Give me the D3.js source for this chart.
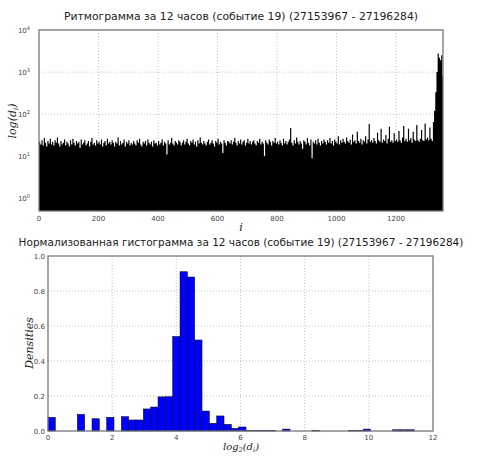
<!doctype html>
<html lang="ru">
<head>
<meta charset="utf-8">
<title>ритмограмма</title>
<script src="https://d3js.org/d3.v7.min.js"></script>
<style>
body{margin:0;background:#fff;}
text{font-family:"DejaVu Sans",sans-serif;}
.grid line{stroke:#999;stroke-width:0.6;stroke-dasharray:1,2;}
.frame{fill:none;stroke:#777;stroke-width:1.3;}
</style>
</head>
<body>
<div id="svg"></div>
<script>
// rhythmogram: one value per 4 beats
var rrStep = 4;
var rrCount = 1358;
var rr = [
22,19,24,18,27,21,17,23,20,26,19,22,18,24,21,28,20,17,23,19,
21,25,18,22,20,17,24,19,26,21,18,23,20,22,16,25,19,21,24,18,
20,23,17,22,27,19,21,18,24,20,22,19,25,17,21,23,18,26,20,22,
19,24,21,17,22,20,28,18,23,19,21,25,17,22,20,24,18,21,19,23,
20,18,24,21,26,19,17,22,20,23,18,25,21,19,22,17,24,20,21,18,
23,19,21,25,18,22,20,11,24,19,21,27,20,18,23,21,19,24,22,18,
21,24,19,22,26,20,18,23,21,25,19,22,17,24,20,28,21,19,23,20,
18,22,25,19,21,24,20,17,23,21,26,19,22,20,12,24,21,18,23,22,
20,24,19,22,27,21,18,23,20,25,19,22,24,18,21,26,20,23,19,22,
24,20,18,23,21,26,19,22,20,10,24,21,19,25,22,18,23,21,27,20,
22,19,24,21,18,26,20,23,19,22,25,47,21,18,24,20,28,22,19,23,
20,15,24,22,19,27,21,18,25,9,22,20,24,19,26,21,18,23,20,25,
22,19,24,21,27,20,23,18,25,22,20,30,19,24,21,26,22,20,28,23,
21,25,19,33,22,24,20,38,23,21,26,19,24,22,30,20,25,58,22,24,
21,27,23,20,36,24,22,45,21,25,23,32,20,26,50,22,24,21,35,23,
25,22,40,24,21,28,52,23,26,22,45,24,27,21,38,25,23,55,24,22,
26,42,24,23,60,25,28,24,48,26,23,65,120,330,1000,2760,2200,1900,2500,800
];
var rrXTicks = [0,200,400,600,800,1000,1200];
var rrYTicks = [0,1,2,3,4];   // powers of ten

// normalized histogram of log2(d_i), 50 bins over [0, 11.43]
var histMax = 11.43;
var hist = [
0.078,0,0,0,0.095,0,0.070,0,0.078,0,
0.082,0.063,0.063,0.126,0.137,0.195,0.196,0.540,0.910,0.880,
0.520,0.114,0.044,0.086,0.038,0.015,0.023,0.004,0.004,0.004,
0.004,0,0.011,0,0,0,0.004,0,0,0,
0,0.004,0.004,0.011,0,0,0,0.007,0.007,0.007
];
var histXTicks = [0,2,4,6,8,10,12];
var histYTicks = [0,0.2,0.4,0.6,0.8,1.0];

var title1 = "Ритмограмма за 12 часов (событие 19) (27153967 - 27196284)";
var title2 = "Нормализованная гистограмма за 12 часов (событие 19) (27153967 - 27196284)";

var chart = d3.select("#svg").append("svg")
  .attr("width", 481).attr("height", 456)
  .style("background", "#fff");

// ---------- top: rhythmogram ----------
var t = {left:39, right:443, top:30, bottom:211};
var x1 = d3.scaleLinear().domain([0, rrCount]).range([t.left, t.right]);
var y1 = d3.scaleLog().domain([0.5, 10000]).range([t.bottom, t.top]);

chart.append("clipPath").attr("id","clip1").append("rect")
  .attr("x",t.left).attr("y",t.top).attr("width",t.right-t.left).attr("height",t.bottom-t.top);

var g1 = chart.append("g").attr("class","grid");
g1.selectAll(".gx").data(rrXTicks.slice(1)).enter().append("line")
  .attr("x1",d=>x1(d)).attr("x2",d=>x1(d)).attr("y1",t.top).attr("y2",t.bottom);
g1.selectAll(".gy").data(rrYTicks).enter().append("line")
  .attr("x1",t.left).attr("x2",t.right).attr("y1",d=>y1(Math.pow(10,d))).attr("y2",d=>y1(Math.pow(10,d)));

// bars drawn as one stepped area so neighbouring bars don't leave seams
var pts = rr.map(function(d,i){ return [i*rrStep, d]; });
pts.push([rrCount, rr[rr.length-1]]);
var barArea = d3.area().curve(d3.curveStepAfter)
  .x(d=>x1(d[0])).y0(t.bottom).y1(d=>y1(d[1]));
chart.append("path").attr("clip-path","url(#clip1)")
  .attr("d", barArea(pts)).attr("fill","#000").attr("stroke","none");

chart.append("rect").attr("class","frame")
  .attr("x",t.left).attr("y",t.top).attr("width",t.right-t.left).attr("height",t.bottom-t.top);

rrXTicks.forEach(function(v){
  chart.append("text").attr("x",x1(v)).attr("y",t.bottom+10).attr("text-anchor","middle")
    .style("font-size","7px").style("fill","#444").text(v);
});
rrYTicks.forEach(function(p){
  var tx = chart.append("text").attr("x",t.left-9).attr("y",y1(Math.pow(10,p))+2.5).attr("text-anchor","end")
    .style("font-size","7px").style("fill","#444").text("10");
  tx.append("tspan").attr("dy",-3).style("font-size","5px").text(p);
});

chart.append("text").attr("x",241).attr("y",20).attr("text-anchor","middle")
  .style("font-size","10.8px").style("fill","#222").text(title1);
chart.append("text").attr("x",241).attr("y",231).attr("text-anchor","middle")
  .style("font-family","DejaVu Serif").style("font-style","italic").style("font-size","11px").style("fill","#222").text("i");
var yl1 = chart.append("text").attr("transform","translate(16,121) rotate(-90)").attr("text-anchor","middle")
  .style("font-family","DejaVu Serif").style("font-style","italic").style("font-size","11px").style("fill","#222").text("log(d");
yl1.append("tspan").attr("dy",2).style("font-size","7px").text("i");
yl1.append("tspan").attr("dy",-2).text(")");

// ---------- bottom: histogram ----------
var b = {left:48, right:433, top:256, bottom:431};
var x2 = d3.scaleLinear().domain([0,12]).range([b.left,b.right]);
var y2 = d3.scaleLinear().domain([0,1]).range([b.bottom,b.top]);
var binW = histMax/hist.length;

var g2 = chart.append("g").attr("class","grid");
g2.selectAll(".gx").data(histXTicks.slice(1,-1)).enter().append("line")
  .attr("x1",d=>x2(d)).attr("x2",d=>x2(d)).attr("y1",b.top).attr("y2",b.bottom);
g2.selectAll(".gy").data(histYTicks.slice(1,-1)).enter().append("line")
  .attr("x1",b.left).attr("x2",b.right).attr("y1",d=>y2(d)).attr("y2",d=>y2(d));

chart.append("g").selectAll("rect").data(hist).enter().append("rect")
  .attr("x",(d,i)=>x2(i*binW))
  .attr("width",x2(binW)-x2(0))
  .attr("y",d=>y2(d))
  .attr("height",d=>b.bottom-y2(d))
  .attr("fill","#0000ff").attr("stroke","#000").attr("stroke-width",0.5);

chart.append("rect").attr("class","frame")
  .attr("x",b.left).attr("y",b.top).attr("width",b.right-b.left).attr("height",b.bottom-b.top);

histXTicks.forEach(function(v){
  chart.append("text").attr("x",x2(v)).attr("y",b.bottom+9).attr("text-anchor","middle")
    .style("font-size","7px").style("fill","#444").text(v);
});
histYTicks.forEach(function(v){
  chart.append("text").attr("x",b.left-3).attr("y",y2(v)+2.5).attr("text-anchor","end")
    .style("font-size","7px").style("fill","#444").text(v.toFixed(1));
});

chart.append("text").attr("x",241).attr("y",246).attr("text-anchor","middle")
  .style("font-size","10.5px").style("fill","#222").text(title2);
chart.append("text").attr("transform","translate(33,343) rotate(-90)").attr("text-anchor","middle")
  .style("font-family","DejaVu Serif").style("font-style","italic").style("font-size","11px").style("fill","#222").text("Densities");
var xl2 = chart.append("text").attr("x",241).attr("y",450).attr("text-anchor","middle")
  .style("font-family","DejaVu Serif").style("font-style","italic").style("font-size","10px").style("fill","#222").text("log");
xl2.append("tspan").attr("dy",2).style("font-size","6.5px").text("2");
xl2.append("tspan").attr("dy",-2).text("(d");
xl2.append("tspan").attr("dy",2).style("font-size","6.5px").text("i");
xl2.append("tspan").attr("dy",-2).text(")");
</script>
</body>
</html>
